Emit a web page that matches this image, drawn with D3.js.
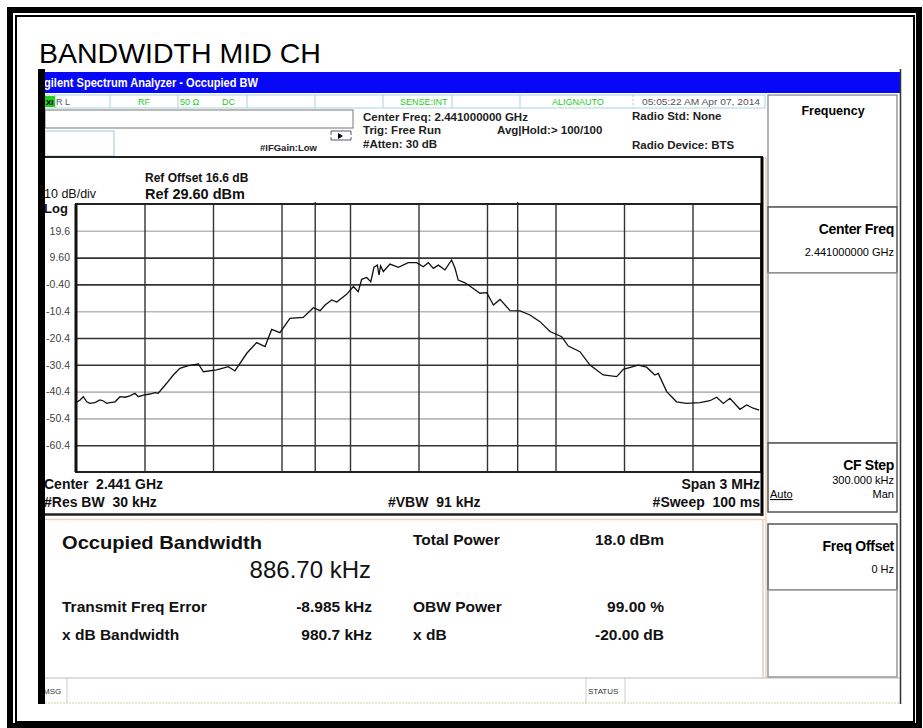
<!DOCTYPE html>
<html>
<head>
<meta charset="utf-8">
<script src="https://cdn.jsdelivr.net/npm/d3@7"></script>
<style>
  body { margin: 0; background: #fff; }
  text { font-family: "Liberation Sans", Arial, sans-serif; }
</style>
</head>
<body>
<script>
// trace: offset from centre (MHz) and level (dBm)
const freqOffsetMHz = [
  -1.497, -1.482, -1.468, -1.453, -1.439, -1.417, -1.395, -1.380, -1.366, -1.351,
  -1.329, -1.307, -1.285, -1.264, -1.242, -1.227, -1.205, -1.176, -1.154, -1.140,
  -1.103, -1.074, -1.045, -1.008, -0.964, -0.942, -0.884, -0.833, -0.804, -0.752,
  -0.709, -0.672, -0.643, -0.607, -0.563, -0.505, -0.475, -0.461, -0.431, -0.409,
  -0.380, -0.358, -0.315, -0.285, -0.264, -0.249, -0.227, -0.209, -0.195, -0.180,
  -0.173, -0.166, -0.154, -0.125, -0.088, -0.045, -0.008, 0.021, 0.043, 0.065,
  0.087, 0.116, 0.145, 0.160, 0.174, 0.204, 0.240, 0.269, 0.299, 0.328,
  0.357, 0.401, 0.445, 0.488, 0.532, 0.576, 0.627, 0.656, 0.707, 0.751,
  0.809, 0.868, 0.897, 0.962, 0.999, 1.035, 1.050, 1.087, 1.130, 1.174,
  1.233, 1.276, 1.306, 1.335, 1.364, 1.408, 1.437, 1.466, 1.492
];
const traceDbm = [
  -44.4, -43.5, -42.3, -44.2, -44.8, -44.5, -43.5, -43.9, -44.8, -44.5,
  -44.2, -42.3, -42.5, -42.0, -41.0, -42.3, -41.7, -41.3, -40.8, -41.0,
  -37.3, -34.2, -31.7, -30.7, -30.1, -33.0, -32.3, -31.1, -32.7, -26.1,
  -22.1, -23.6, -17.2, -18.4, -13.1, -12.7, -10.3, -9.1, -10.2, -8.1,
  -6.2, -7.0, -4.1, -1.2, -3.1, 1.5, 2.2, 0.6, 6.0, 6.8,
  3.1, 6.5, 4.4, 7.2, 6.0, 7.7, 7.7, 6.2, 7.7, 5.6,
  6.8, 5.0, 8.7, 5.6, 1.2, 0.2, -1.9, -3.7, -3.5, -8.1,
  -6.0, -10.2, -10.3, -11.8, -14.3, -18.0, -19.9, -23.4, -25.5, -30.5,
  -34.2, -34.8, -32.1, -30.5, -31.3, -34.2, -33.6, -40.4, -44.2, -44.8,
  -44.5, -43.8, -42.5, -44.8, -42.9, -47.0, -45.4, -46.6, -47.3
];

const yTickValues = [19.6, 9.6, -0.4, -10.4, -20.4, -30.4, -40.4, -50.4, -60.4];
const yTickLabels = ["19.6", "9.60", "-0.40", "-10.4", "-20.4", "-30.4", "-40.4", "-50.4", "-60.4"];
const xGridMHz = [-1.2, -0.9, -0.6, -0.3, 0, 0.3, 0.6, 0.9, 1.2];

const refLevel = 29.6, dbPerDiv = 10, spanMHz = 3;
const obwKHz = 886.70, freqErrorKHz = -8.985;

const measLeft = [["Transmit Freq Error", "-8.985 kHz"], ["x dB Bandwidth", "980.7 kHz"]];
const measRight = [["Total Power", "18.0 dBm"], ["OBW Power", "99.00 %"], ["x dB", "-20.00 dB"]];

const svg = d3.select("body").append("svg")
    .attr("width", 923)
    .attr("height", 728);

// page frame (thick + thin)
svg.append("rect").attr("x", 10).attr("y", 10).attr("width", 909).attr("height", 716)
    .attr("fill", "none").attr("stroke", "#000").attr("stroke-width", 6);
svg.append("rect").attr("x", 16).attr("y", 16).attr("width", 898).attr("height", 706)
    .attr("fill", "none").attr("stroke", "#000").attr("stroke-width", 2);

svg.append("text").attr("x", 39).attr("y", 63)
    .style("font-size", "28.5px").text("BANDWIDTH MID CH");

// ---- analyzer screen ----
const scr = svg.append("g");
scr.append("rect").attr("x", 45).attr("y", 72).attr("width", 855).attr("height", 21).attr("fill", "#0808f8");
scr.append("text").attr("x", 36).attr("y", 87).attr("fill", "#fff")
    .style("font-size", "12px").style("font-weight", "bold")
    .attr("textLength", 222).attr("lengthAdjust", "spacingAndGlyphs")
    .text("Agilent Spectrum Analyzer - Occupied BW");

// status row
const cells = [45, 55, 110, 178, 247, 315, 383, 452, 520, 633, 765];
scr.append("rect").attr("x", 45).attr("y", 95).attr("width", 720).attr("height", 13)
    .attr("fill", "#fff").attr("stroke", "#a9d6d6").attr("stroke-width", 1);
cells.slice(1, -1).forEach(function (cx) {
  scr.append("line").attr("x1", cx).attr("x2", cx).attr("y1", 95).attr("y2", 108)
      .attr("stroke", "#a9d6d6").attr("stroke-dasharray", cx === 633 ? "2,2" : null);
});
scr.append("rect").attr("x", 45).attr("y", 96).attr("width", 10).attr("height", 11).attr("fill", "#22cc22");
scr.append("text").attr("x", 46).attr("y", 105).style("font-size", "8px").style("font-weight", "bold").text("XI");
const statusTexts = [
  { x: 56, t: "R L", c: "#555" }, { x: 138, t: "RF", c: "#22cc22" }, { x: 180, t: "50 Ω", c: "#22cc22" },
  { x: 222, t: "DC", c: "#22cc22" }, { x: 400, t: "SENSE:INT", c: "#22cc22" },
  { x: 552, t: "ALIGNAUTO", c: "#22cc22" }, { x: 642, t: "05:05:22 AM Apr 07, 2014", c: "#555" }
];
statusTexts.forEach(function (s) {
  scr.append("text").attr("x", s.x).attr("y", 105).attr("fill", s.c)
      .style("font-size", "9px").text(s.t);
});
scr.select("text:last-child").attr("textLength", 118).attr("lengthAdjust", "spacingAndGlyphs");

// input boxes
scr.append("rect").attr("x", 45).attr("y", 110).attr("width", 308).attr("height", 18)
    .attr("fill", "#fff").attr("stroke", "#777");
scr.append("rect").attr("x", 45).attr("y", 131).attr("width", 69).attr("height", 25)
    .attr("fill", "#fff").attr("stroke", "#9cc");
scr.append("path").attr("d", "M331,135 v-4 h20 v4 M331,137 v3 h20 v-3")
    .attr("fill", "none").attr("stroke", "#557");
scr.append("path").attr("d", "M338,133 l5,3 l-5,3 z").attr("fill", "#000");

const hdr = [
  { x: 260, y: 151, t: "#IFGain:Low", s: 9.5 },
  { x: 363, y: 121, t: "Center Freq: 2.441000000 GHz", s: 11.5 },
  { x: 363, y: 134, t: "Trig: Free Run", s: 11.5 },
  { x: 363, y: 148, t: "#Atten: 30 dB", s: 11.5 },
  { x: 497, y: 134, t: "Avg|Hold:> 100/100", s: 11.5 },
  { x: 632, y: 120, t: "Radio Std: None", s: 11.5 },
  { x: 632, y: 149, t: "Radio Device: BTS", s: 11.5 }
];
hdr.forEach(function (h) {
  scr.append("text").attr("x", h.x).attr("y", h.y).style("font-size", h.s + "px")
      .style("font-weight", "bold").attr("fill", "#222").text(h.t);
});

scr.append("line").attr("x1", 45).attr("x2", 763).attr("y1", 157).attr("y2", 157)
    .attr("stroke", "#222").attr("stroke-width", 2);

// ---- spectrum plot ----
const margin = { top: 204, left: 76 },
      width = 685, height = 268;
const x = d3.scaleLinear().domain([-spanMHz / 2, spanMHz / 2]).range([margin.left, margin.left + width]);
const y = d3.scaleLinear().domain([refLevel - 10 * dbPerDiv, refLevel]).range([margin.top + height, margin.top]);

const lightRows = [19.6, -10.4, -40.4, -50.4];
svg.append("g")
    .attr("transform", "translate(" + margin.left + ",0)")
    .call(d3.axisLeft(y).tickValues(yTickValues).tickSize(-width).tickFormat(""))
    .call(function (g) { g.select(".domain").remove(); })
    .selectAll("line")
    .attr("stroke", function (d) { return lightRows.indexOf(d) >= 0 ? "#b8b8b8" : "#333"; })
    .attr("stroke-width", 1.6);

svg.append("g")
    .attr("transform", "translate(0," + (margin.top + height) + ")")
    .call(d3.axisBottom(x).tickValues(xGridMHz).tickSize(-height).tickFormat(""))
    .call(function (g) { g.select(".domain").remove(); })
    .selectAll("line").attr("stroke", "#333").attr("stroke-width", 1.4);

// OBW edges
const obwEdges = [freqErrorKHz / 1000 - obwKHz / 2000, freqErrorKHz / 1000 + obwKHz / 2000];
svg.selectAll(".obw").data(obwEdges).enter().append("line")
    .attr("class", "obw")
    .attr("x1", function (d) { return x(d); }).attr("x2", function (d) { return x(d); })
    .attr("y1", margin.top - 2).attr("y2", margin.top + height)
    .attr("stroke", "#333").attr("stroke-width", 1.4);

svg.append("g")
    .attr("transform", "translate(" + margin.left + ",0)")
    .call(d3.axisLeft(y).tickValues(yTickValues).tickSize(0).tickPadding(6)
        .tickFormat(function (d, i) { return yTickLabels[i]; }))
    .call(function (g) { g.select(".domain").remove(); })
    .selectAll("text")
    .attr("fill", "#444")
    .style("font-size", "10.5px")
    .style("font-family", "'Liberation Sans', Arial, sans-serif");

const trace = freqOffsetMHz.map(function (f, i) { return { f: f, v: traceDbm[i] }; });
svg.append("path")
    .datum(trace)
    .attr("fill", "none")
    .attr("stroke", "#111")
    .attr("stroke-width", 1.3)
    .attr("d", d3.line().x(function (d) { return x(d.f); }).y(function (d) { return y(d.v); }));

svg.append("rect").attr("x", margin.left).attr("y", margin.top).attr("width", width).attr("height", height)
    .attr("fill", "none").attr("stroke", "#222").attr("stroke-width", 2);
svg.append("line").attr("x1", margin.left).attr("x2", margin.left).attr("y1", margin.top).attr("y2", margin.top + height)
    .attr("stroke", "#111").attr("stroke-width", 3);

// plot annotations
const ann = [
  { x: 145, y: 182, t: "Ref Offset 16.6 dB", s: 12, w: "bold" },
  { x: 145, y: 199, t: "Ref 29.60 dBm", s: 14.5, w: "bold" },
  { x: 44, y: 198, t: "10 dB/div", s: 12.5, w: "normal" },
  { x: 44, y: 213, t: "Log", s: 13, w: "bold" },
  { x: 44, y: 489, t: "Center  2.441 GHz", s: 14, w: "bold" },
  { x: 44, y: 507, t: "#Res BW  30 kHz", s: 14, w: "bold" },
  { x: 388, y: 507, t: "#VBW  91 kHz", s: 14, w: "bold" }
];
ann.forEach(function (a) {
  svg.append("text").attr("x", a.x).attr("y", a.y).style("font-size", a.s + "px")
      .style("font-weight", a.w).attr("fill", "#111").attr("xml:space", "preserve").text(a.t);
});
[["Span 3 MHz", 489], ["#Sweep  100 ms", 507]].forEach(function (a) {
  svg.append("text").attr("x", 760).attr("y", a[1]).attr("text-anchor", "end")
      .style("font-size", "14px").style("font-weight", "bold").attr("fill", "#111")
      .attr("xml:space", "preserve").text(a[0]);
});

// graph panel edges
svg.append("line").attr("x1", 762).attr("x2", 762).attr("y1", 157).attr("y2", 516)
    .attr("stroke", "#000").attr("stroke-width", 3);
svg.append("line").attr("x1", 766).attr("x2", 766).attr("y1", 157).attr("y2", 678)
    .attr("stroke", "#f2d2b4").attr("stroke-width", 1.5);
svg.append("line").attr("x1", 45).attr("x2", 763).attr("y1", 514.5).attr("y2", 514.5)
    .attr("stroke", "#222").attr("stroke-width", 2.5);
svg.append("line").attr("x1", 45).attr("x2", 766).attr("y1", 519.5).attr("y2", 519.5)
    .attr("stroke", "#f2d2b4").attr("stroke-width", 1.5);
svg.append("line").attr("x1", 763).attr("x2", 763).attr("y1", 520).attr("y2", 678)
    .attr("stroke", "#bbb").attr("stroke-width", 1);

// ---- measurement results ----
const mt = svg.append("g").attr("fill", "#111");
mt.append("text").attr("x", 62).attr("y", 549).style("font-size", "19px").style("font-weight", "bold")
    .attr("textLength", 200).attr("lengthAdjust", "spacingAndGlyphs").text("Occupied Bandwidth");
mt.append("text").attr("x", 371).attr("y", 578).attr("text-anchor", "end").style("font-size", "24px")
    .text(obwKHz.toFixed(2) + " kHz");
measLeft.forEach(function (m, i) {
  const yy = 612 + i * 28;
  mt.append("text").attr("x", 62).attr("y", yy).style("font-size", "15.5px").style("font-weight", "bold").text(m[0]);
  mt.append("text").attr("x", 372).attr("y", yy).attr("text-anchor", "end").style("font-size", "15.5px")
      .style("font-weight", "bold").text(m[1]);
});
measRight.forEach(function (m, i) {
  const yy = i === 0 ? 545 : 612 + (i - 1) * 28;
  mt.append("text").attr("x", 413).attr("y", yy).style("font-size", "15.5px").style("font-weight", "bold").text(m[0]);
  mt.append("text").attr("x", 664).attr("y", yy).attr("text-anchor", "end").style("font-size", "15.5px")
      .style("font-weight", "bold").text(m[1]);
});

// message / status row
svg.append("line").attr("x1", 45).attr("x2", 900).attr("y1", 678).attr("y2", 678).attr("stroke", "#bbb");
svg.append("line").attr("x1", 45).attr("x2", 900).attr("y1", 703).attr("y2", 703)
    .attr("stroke", "#d8d0a0").attr("stroke-dasharray", "2,1");
[67, 586, 625].forEach(function (lx) {
  svg.append("line").attr("x1", lx).attr("x2", lx).attr("y1", 678).attr("y2", 703).attr("stroke", "#ccc");
});
svg.append("text").attr("x", 43).attr("y", 694).style("font-size", "8px").attr("fill", "#333").text("MSG");
svg.append("text").attr("x", 588).attr("y", 694).style("font-size", "8px").attr("fill", "#333").text("STATUS");

// ---- softkey panel ----
const keys = [
  { y0: 95, y1: 207, title: "Frequency", center: true },
  { y0: 207, y1: 273, title: "Center Freq", value: "2.441000000 GHz" },
  { y0: 273, y1: 443 },
  { y0: 443, y1: 512, title: "CF Step", value: "300.000 kHz", auto: true },
  { y0: 524, y1: 590, title: "Freq Offset", value: "0 Hz" },
  { y0: 590, y1: 677 }
];
keys.forEach(function (k) {
  const g = svg.append("g");
  g.append("rect").attr("x", 768).attr("y", k.y0).attr("width", 129).attr("height", k.y1 - k.y0)
      .attr("fill", "#fff").attr("stroke", k.title && !k.center ? "#555" : "#999").attr("stroke-width", 1.5);
  if (k.center) {
    g.append("text").attr("x", 833).attr("y", 115).attr("text-anchor", "middle")
        .style("font-size", "12.5px").style("font-weight", "bold").text(k.title);
  } else if (k.title) {
    g.append("text").attr("x", 894).attr("y", k.y0 + 27).attr("text-anchor", "end")
        .style("font-size", "14px").style("font-weight", "bold").attr("letter-spacing", "-0.3px").text(k.title);
    g.append("text").attr("x", 894).attr("y", k.y0 + (k.auto ? 41 : 49)).attr("text-anchor", "end")
        .style("font-size", "11px").text(k.value);
    if (k.auto) {
      g.append("text").attr("x", 770).attr("y", k.y0 + 55).style("font-size", "11px")
          .attr("text-decoration", "underline").text("Auto");
      g.append("text").attr("x", 894).attr("y", k.y0 + 55).attr("text-anchor", "end")
          .style("font-size", "11px").text("Man");
    }
  }
});

// screen edges
svg.append("line").attr("x1", 900.5).attr("x2", 900.5).attr("y1", 69).attr("y2", 704)
    .attr("stroke", "#333").attr("stroke-width", 1.5);
svg.append("rect").attr("x", 38).attr("y", 69).attr("width", 7).attr("height", 635).attr("fill", "#000");
</script>
</body>
</html>
